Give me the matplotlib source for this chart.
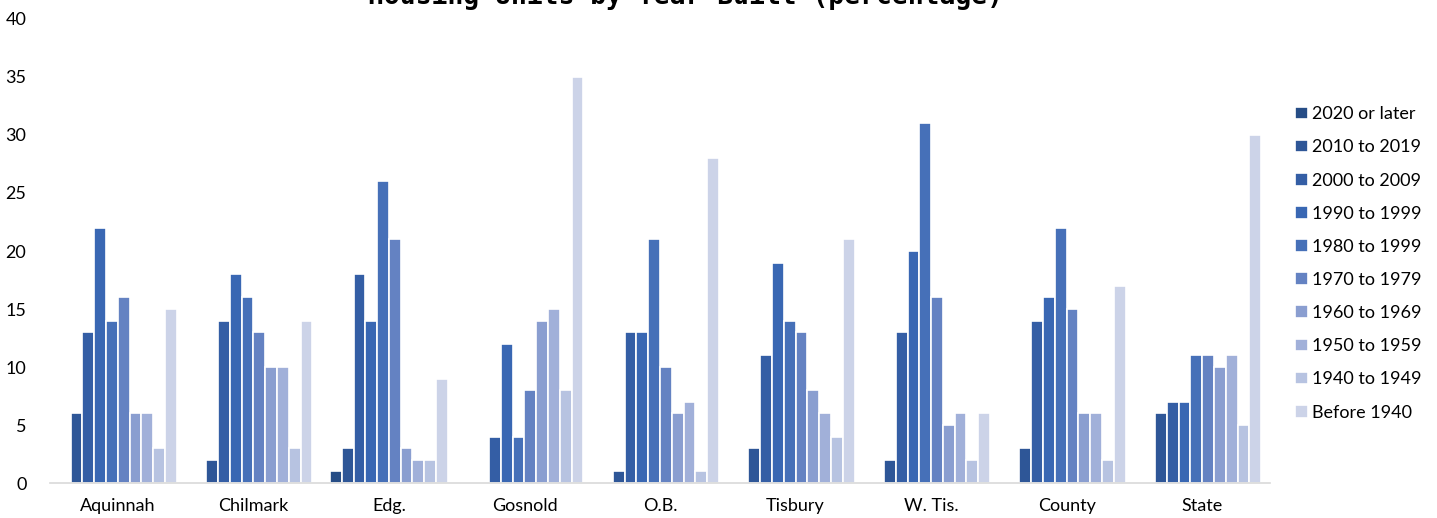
import numpy as np
import matplotlib
matplotlib.use('Agg')
import matplotlib.pyplot as plt

plt.rcParams['font.family'] = ['Lato', 'DejaVu Sans']

towns = ['Aquinnah', 'Chilmark', 'Edg.', 'Gosnold', 'O.B.', 'Tisbury', 'W. Tis.', 'County', 'State']
periods = ['2020 or later', '2010 to 2019', '2000 to 2009', '1990 to 1999', '1980 to 1999',
           '1970 to 1979', '1960 to 1969', '1950 to 1959', '1940 to 1949', 'Before 1940']

# one list per period, values per town (percentage)
y2020 = [0, 0, 1, 0, 0, 0, 0, 0, 0]
y2010 = [6, 2, 3, 0, 1, 3, 2, 3, 6]
y2000 = [13, 14, 18, 4, 13, 11, 13, 14, 7]
y1990 = [22, 18, 14, 12, 13, 19, 20, 16, 7]
y1980 = [14, 16, 26, 4, 21, 14, 31, 22, 11]
y1970 = [16, 13, 21, 8, 10, 13, 16, 15, 11]
y1960 = [6, 10, 3, 14, 6, 8, 5, 6, 10]
y1950 = [6, 10, 2, 15, 7, 6, 6, 6, 11]
y1940 = [3, 3, 2, 8, 1, 4, 2, 2, 5]
pre1940 = [15, 14, 9, 35, 28, 21, 6, 17, 30]

series = [y2020, y2010, y2000, y1990, y1980, y1970, y1960, y1950, y1940, pre1940]
colors = ['#264d86', '#2e5697', '#345ea5', '#3967b3', '#4670b8',
          '#6482c2', '#8a9ed0', '#a1b0d9', '#b7c3e1', '#ccd3e8']

fig = plt.figure(figsize=(14.37, 5.18), dpi=100)
ax = fig.add_axes([50/1437, 1-483/518, 1220/1437, 464/518])

x = np.arange(len(towns))
w = 0.087
for i, (vals, c, lab) in enumerate(zip(series, colors, periods)):
    ax.bar(x + (i - 4.5) * w, vals, width=w, color=c, edgecolor='white',
           linewidth=1.2, label=lab)

ax.set_xlim(-0.5, len(towns) - 0.5)
ax.set_ylim(0, 40)
ax.set_yticks(range(0, 41, 5))
ax.set_xticks(x)
ax.set_xticklabels(towns)
ax.tick_params(axis='both', length=0, labelsize=13, colors='black')
ax.tick_params(axis='y', pad=17)
ax.tick_params(axis='x', pad=11)
for s in ['top', 'right', 'left']:
    ax.spines[s].set_visible(False)
ax.spines['bottom'].set_color('#d9d9d9')
ax.spines['bottom'].set_linewidth(1.2)

fig.legend(loc='upper left', bbox_to_anchor=(1288/1437, 1-99/518), frameon=False,
           fontsize=13, handlelength=0.7, handleheight=0.7, handletextpad=0.25,
           labelspacing=0.95, borderaxespad=0)

# title sits mostly above the top edge of the figure
fig.text(685/1437, 1-4/518, 'Housing Units by Year Built (percentage)', ha='center',
         va='baseline', family='DejaVu Sans Mono', weight='bold', size=19)

fig.savefig('out.png', dpi=100)
